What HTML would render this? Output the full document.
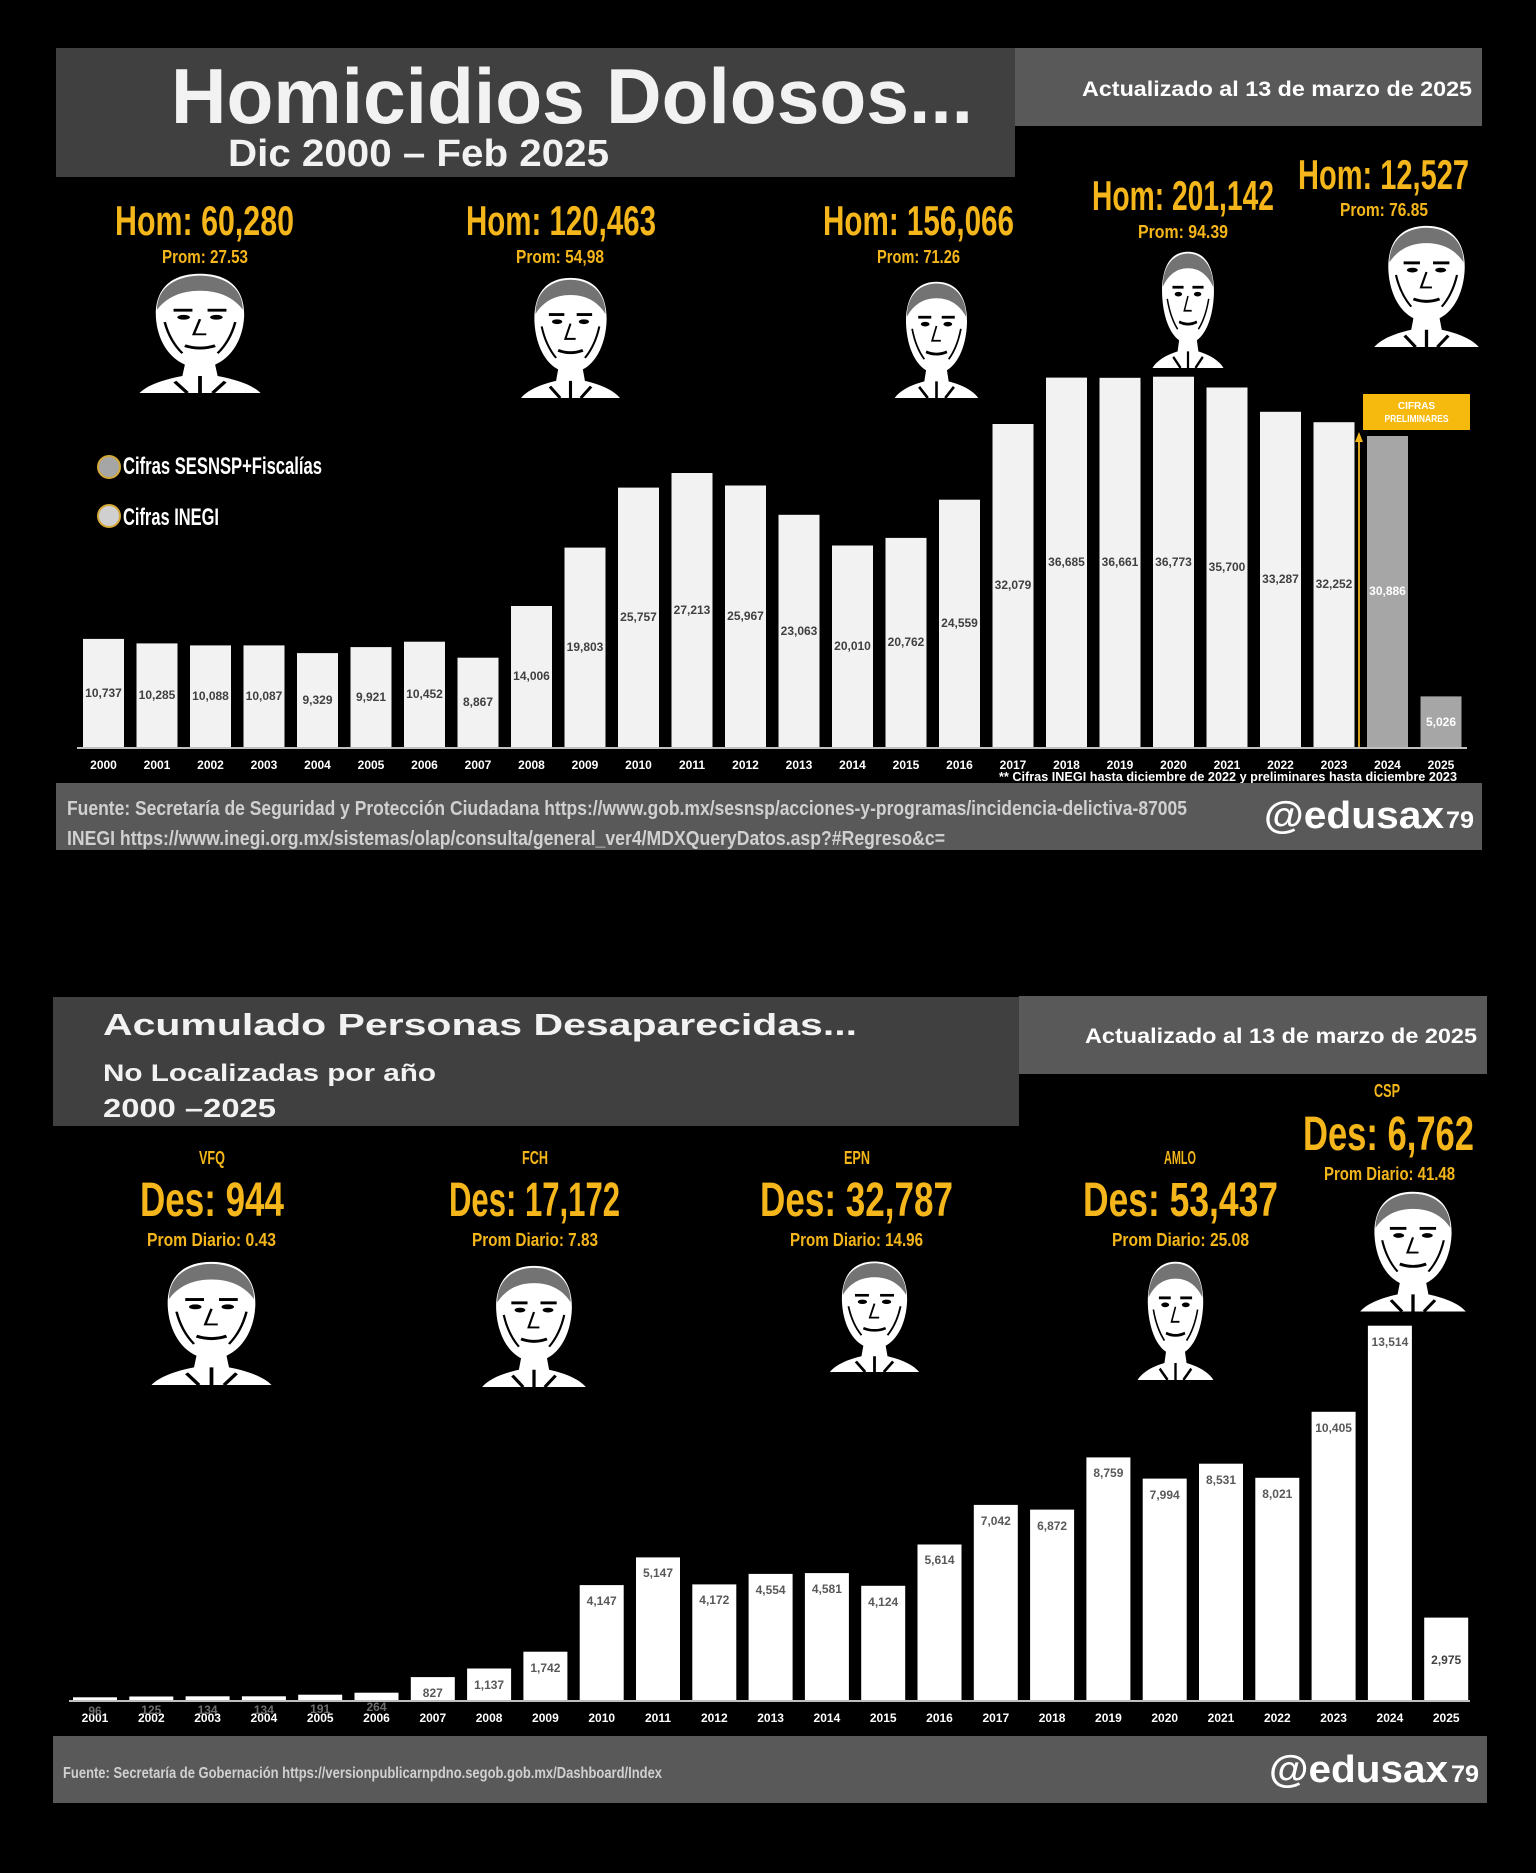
<!DOCTYPE html>
<html><head><meta charset="utf-8"><style>
html,body{margin:0;padding:0;background:#000;}
svg{display:block;}
text{font-family:"Liberation Sans",sans-serif;font-weight:bold;}
</style></head><body>
<svg width="1536" height="1873" viewBox="0 0 1536 1873" xmlns="http://www.w3.org/2000/svg">
<defs>
<g id="face">
 <path d="M50 4 C76 4 86 24 85 50 C84 72 76 92 62 100 L64 112 C80 116 92 122 98 130 L2 130 C8 122 20 116 36 112 L38 100 C24 92 16 72 15 50 C14 24 24 4 50 4 Z" fill="#fff"/>
 <path d="M16 42 C16 16 34 6 50 6 C66 6 84 16 84 42 C76 28 64 22 50 22 C36 22 24 28 16 42 Z" fill="#000" opacity="0.55"/>
 <rect x="29" y="41" width="15" height="3" fill="#000"/>
 <rect x="56" y="41" width="15" height="3" fill="#000"/>
 <ellipse cx="37" cy="50" rx="5" ry="2.5" fill="#000"/>
 <ellipse cx="63" cy="50" rx="5" ry="2.5" fill="#000"/>
 <path d="M50 52 L45 68 L55 68" fill="none" stroke="#000" stroke-width="2"/>
 <path d="M38 80 Q50 85 62 80" fill="none" stroke="#000" stroke-width="3"/>
 <path d="M22 55 Q26 75 36 88 M78 55 Q74 75 64 88" fill="none" stroke="#000" stroke-width="2"/>
 <path d="M30 118 L40 130 M70 118 L60 130 M50 112 L50 130" stroke="#000" stroke-width="3"/>
</g>
</defs>

<!-- ============ TOP SECTION ============ -->
<rect x="56" y="48" width="959" height="129" fill="#404040"/>
<rect x="1015" y="48" width="467" height="78" fill="#595959"/>
<text x="171" y="123" font-size="78" fill="#f2f2f2" textLength="802" lengthAdjust="spacingAndGlyphs">Homicidios Dolosos...</text>
<text x="228" y="166" font-size="38" fill="#f2f2f2" textLength="381" lengthAdjust="spacingAndGlyphs">Dic 2000 – Feb 2025</text>
<text x="1082" y="96" font-size="21" fill="#ffffff" textLength="390" lengthAdjust="spacingAndGlyphs">Actualizado al 13 de marzo de 2025</text>

<g fill="#f4b61a">
<text x="115" y="235" font-size="42" textLength="179" lengthAdjust="spacingAndGlyphs">Hom: 60,280</text>
<text x="162" y="263" font-size="18" textLength="86" lengthAdjust="spacingAndGlyphs">Prom: 27.53</text>
<text x="466" y="235" font-size="42" textLength="190" lengthAdjust="spacingAndGlyphs">Hom: 120,463</text>
<text x="516" y="263" font-size="18" textLength="88" lengthAdjust="spacingAndGlyphs">Prom: 54,98</text>
<text x="823" y="235" font-size="42" textLength="191" lengthAdjust="spacingAndGlyphs">Hom: 156,066</text>
<text x="877" y="263" font-size="18" textLength="83" lengthAdjust="spacingAndGlyphs">Prom: 71.26</text>
<text x="1092" y="210" font-size="42" textLength="182" lengthAdjust="spacingAndGlyphs">Hom: 201,142</text>
<text x="1138" y="238" font-size="18" textLength="90" lengthAdjust="spacingAndGlyphs">Prom: 94.39</text>
<text x="1298" y="189" font-size="42" textLength="171" lengthAdjust="spacingAndGlyphs">Hom: 12,527</text>
<text x="1340" y="216" font-size="18" textLength="88" lengthAdjust="spacingAndGlyphs">Prom: 76.85</text>
</g>

<!-- faces top -->
<use href="#face" transform="translate(137,270) scale(1.26,0.946)"/>
<use href="#face" transform="translate(519,274) scale(1.03,0.954)"/>
<use href="#face" transform="translate(893,278) scale(0.87,0.923)"/>
<use href="#face" transform="translate(1151,248) scale(0.74,0.923)"/>
<use href="#face" transform="translate(1372,222) scale(1.09,0.962)"/>

<!-- legend -->
<circle cx="109" cy="467" r="11" fill="#a6a6a6" stroke="#d4a838" stroke-width="2"/>
<circle cx="109" cy="516" r="11" fill="#d0d0d0" stroke="#d4a838" stroke-width="2"/>
<text x="123" y="474" font-size="24" fill="#fff" textLength="199" lengthAdjust="spacingAndGlyphs">Cifras SESNSP+Fiscalías</text>
<text x="123" y="525" font-size="24" fill="#fff" textLength="96" lengthAdjust="spacingAndGlyphs">Cifras INEGI</text>

<!-- top bars -->
<g fill="#f2f2f2">
<rect x="83" y="638.9" width="41" height="108.1"/>
<rect x="136.5" y="643.4" width="41" height="103.6"/>
<rect x="190" y="645.4" width="41" height="101.6"/>
<rect x="243.5" y="645.4" width="41" height="101.6"/>
<rect x="297" y="653.1" width="41" height="93.9"/>
<rect x="350.5" y="647.1" width="41" height="99.9"/>
<rect x="404" y="641.7" width="41" height="105.3"/>
<rect x="457.5" y="657.7" width="41" height="89.3"/>
<rect x="511" y="606" width="41" height="141"/>
<rect x="564.5" y="547.6" width="41" height="199.4"/>
<rect x="618" y="487.6" width="41" height="259.4"/>
<rect x="671.5" y="473" width="41" height="274"/>
<rect x="725" y="485.5" width="41" height="261.5"/>
<rect x="778.5" y="514.8" width="41" height="232.2"/>
<rect x="832" y="545.5" width="41" height="201.5"/>
<rect x="885.5" y="537.9" width="41" height="209.1"/>
<rect x="939" y="499.7" width="41" height="247.3"/>
<rect x="992.5" y="424" width="41" height="323"/>
<rect x="1046" y="377.6" width="41" height="369.4"/>
<rect x="1099.5" y="377.8" width="41" height="369.2"/>
<rect x="1153" y="376.7" width="41" height="370.3"/>
<rect x="1206.5" y="387.5" width="41" height="359.5"/>
<rect x="1260" y="411.8" width="41" height="335.2"/>
<rect x="1313.5" y="422.2" width="41" height="324.8"/>
</g>
<rect x="1367" y="436" width="41" height="311" fill="#a6a6a6"/>
<rect x="1420.5" y="696.4" width="41" height="50.6" fill="#a6a6a6"/>
<line x1="77" y1="748" x2="1467" y2="748" stroke="#bfbfbf" stroke-width="2"/>

<g font-size="12" fill="#404040" text-anchor="middle">
<text x="103.5" y="697">10,737</text>
<text x="157" y="699">10,285</text>
<text x="210.5" y="700">10,088</text>
<text x="264" y="700">10,087</text>
<text x="317.5" y="704">9,329</text>
<text x="371" y="701">9,921</text>
<text x="424.5" y="698">10,452</text>
<text x="478" y="706">8,867</text>
<text x="531.5" y="680">14,006</text>
<text x="585" y="651">19,803</text>
<text x="638.5" y="621">25,757</text>
<text x="692" y="614">27,213</text>
<text x="745.5" y="620">25,967</text>
<text x="799" y="635">23,063</text>
<text x="852.5" y="650">20,010</text>
<text x="906" y="646">20,762</text>
<text x="959.5" y="627">24,559</text>
<text x="1013" y="589">32,079</text>
<text x="1066.5" y="566">36,685</text>
<text x="1120" y="566">36,661</text>
<text x="1173.5" y="566">36,773</text>
<text x="1227" y="571">35,700</text>
<text x="1280.5" y="583">33,287</text>
<text x="1334" y="588">32,252</text>
<text x="1387.5" y="595" fill="#ffffff">30,886</text>
<text x="1441" y="726" fill="#ffffff">5,026</text>
</g>

<!-- arrow + cifras preliminares -->
<line x1="1359" y1="747" x2="1359" y2="440" stroke="#d9a521" stroke-width="2"/>
<polygon points="1359,432 1355,442 1363,442" fill="#f4b61a"/>
<rect x="1363" y="394" width="107" height="36" fill="#f6b90e"/>
<text x="1416.5" y="409" font-size="10" fill="#fff" text-anchor="middle">CIFRAS</text>
<text x="1416.5" y="422" font-size="10" fill="#fff" text-anchor="middle" textLength="64" lengthAdjust="spacingAndGlyphs">PRELIMINARES</text>

<g font-size="12" fill="#ffffff" text-anchor="middle">
<text x="103.5" y="769">2000</text><text x="157" y="769">2001</text><text x="210.5" y="769">2002</text>
<text x="264" y="769">2003</text><text x="317.5" y="769">2004</text><text x="371" y="769">2005</text>
<text x="424.5" y="769">2006</text><text x="478" y="769">2007</text><text x="531.5" y="769">2008</text>
<text x="585" y="769">2009</text><text x="638.5" y="769">2010</text><text x="692" y="769">2011</text>
<text x="745.5" y="769">2012</text><text x="799" y="769">2013</text><text x="852.5" y="769">2014</text>
<text x="906" y="769">2015</text><text x="959.5" y="769">2016</text><text x="1013" y="769">2017</text>
<text x="1066.5" y="769">2018</text><text x="1120" y="769">2019</text><text x="1173.5" y="769">2020</text>
<text x="1227" y="769">2021</text><text x="1280.5" y="769">2022</text><text x="1334" y="769">2023</text>
<text x="1387.5" y="769">2024</text><text x="1441" y="769">2025</text>
</g>
<text x="999" y="781" font-size="13" fill="#ffffff" textLength="458" lengthAdjust="spacingAndGlyphs">** Cifras INEGI hasta diciembre de 2022 y preliminares hasta diciembre 2023</text>

<!-- footer 1 -->
<rect x="56" y="783" width="1426" height="67" fill="#595959"/>
<text x="67" y="815" font-size="20" fill="#d0d0d0" textLength="1120" lengthAdjust="spacingAndGlyphs">Fuente: Secretaría de Seguridad y Protección Ciudadana https://www.gob.mx/sesnsp/acciones-y-programas/incidencia-delictiva-87005</text>
<text x="67" y="845" font-size="20" fill="#d0d0d0" textLength="878" lengthAdjust="spacingAndGlyphs">INEGI https://www.inegi.org.mx/sistemas/olap/consulta/general_ver4/MDXQueryDatos.asp?#Regreso&amp;c=</text>
<text x="1264" y="828" font-size="38" fill="#ffffff" textLength="180" lengthAdjust="spacingAndGlyphs">@edusax</text>
<text x="1446" y="828" font-size="24" fill="#ffffff" textLength="28" lengthAdjust="spacingAndGlyphs">79</text>

<!-- ============ BOTTOM SECTION ============ -->
<rect x="53" y="997" width="966" height="129" fill="#404040"/>
<rect x="1019" y="996" width="468" height="78" fill="#595959"/>
<text x="103" y="1035" font-size="31" fill="#f2f2f2" textLength="754" lengthAdjust="spacingAndGlyphs">Acumulado Personas Desaparecidas...</text>
<text x="103" y="1081" font-size="24" fill="#f2f2f2" textLength="333" lengthAdjust="spacingAndGlyphs">No Localizadas por año</text>
<text x="103" y="1117" font-size="26" fill="#f2f2f2" textLength="173" lengthAdjust="spacingAndGlyphs">2000 –2025</text>
<text x="1085" y="1043" font-size="21" fill="#ffffff" textLength="392" lengthAdjust="spacingAndGlyphs">Actualizado al 13 de marzo de 2025</text>

<g fill="#f4b61a">
<text x="1387" y="1097" font-size="18" text-anchor="middle" textLength="26" lengthAdjust="spacingAndGlyphs">CSP</text>
<text x="1303" y="1150" font-size="48" textLength="171" lengthAdjust="spacingAndGlyphs">Des: 6,762</text>
<text x="1324" y="1180" font-size="18" textLength="131" lengthAdjust="spacingAndGlyphs">Prom Diario: 41.48</text>

<text x="212" y="1164" font-size="18" text-anchor="middle" textLength="26" lengthAdjust="spacingAndGlyphs">VFQ</text>
<text x="140" y="1216" font-size="48" textLength="144" lengthAdjust="spacingAndGlyphs">Des: 944</text>
<text x="147" y="1246" font-size="18" textLength="129" lengthAdjust="spacingAndGlyphs">Prom Diario: 0.43</text>

<text x="535" y="1164" font-size="18" text-anchor="middle" textLength="26" lengthAdjust="spacingAndGlyphs">FCH</text>
<text x="449" y="1216" font-size="48" textLength="171" lengthAdjust="spacingAndGlyphs">Des: 17,172</text>
<text x="472" y="1246" font-size="18" textLength="126" lengthAdjust="spacingAndGlyphs">Prom Diario: 7.83</text>

<text x="857" y="1164" font-size="18" text-anchor="middle" textLength="26" lengthAdjust="spacingAndGlyphs">EPN</text>
<text x="760" y="1216" font-size="48" textLength="193" lengthAdjust="spacingAndGlyphs">Des: 32,787</text>
<text x="790" y="1246" font-size="18" textLength="133" lengthAdjust="spacingAndGlyphs">Prom Diario: 14.96</text>

<text x="1180" y="1164" font-size="18" text-anchor="middle" textLength="32" lengthAdjust="spacingAndGlyphs">AMLO</text>
<text x="1083" y="1216" font-size="48" textLength="195" lengthAdjust="spacingAndGlyphs">Des: 53,437</text>
<text x="1112" y="1246" font-size="18" textLength="137" lengthAdjust="spacingAndGlyphs">Prom Diario: 25.08</text>
</g>

<!-- faces bottom -->
<use href="#face" transform="translate(149,1258) scale(1.25,0.977)"/>
<use href="#face" transform="translate(480,1262) scale(1.08,0.962)"/>
<use href="#face" transform="translate(828,1258) scale(0.93,0.877)"/>
<use href="#face" transform="translate(1136,1258) scale(0.79,0.938)"/>
<use href="#face" transform="translate(1358,1188) scale(1.1,0.95)"/>

<!-- bottom bars -->
<g fill="#ffffff">
<rect x="73" y="1697.3" width="44" height="2.7"/>
<rect x="129.3" y="1696.5" width="44" height="3.5"/>
<rect x="185.6" y="1696.3" width="44" height="3.7"/>
<rect x="241.9" y="1696.3" width="44" height="3.7"/>
<rect x="298.2" y="1694.7" width="44" height="5.3"/>
<rect x="354.5" y="1692.7" width="44" height="7.3"/>
<rect x="410.8" y="1677.1" width="44" height="22.9"/>
<rect x="467.1" y="1668.5" width="44" height="31.5"/>
<rect x="523.4" y="1651.7" width="44" height="48.3"/>
<rect x="579.7" y="1585.1" width="44" height="114.9"/>
<rect x="636" y="1557.4" width="44" height="142.6"/>
<rect x="692.3" y="1584.4" width="44" height="115.6"/>
<rect x="748.6" y="1573.9" width="44" height="126.1"/>
<rect x="804.9" y="1573.1" width="44" height="126.9"/>
<rect x="861.2" y="1585.8" width="44" height="114.2"/>
<rect x="917.5" y="1544.5" width="44" height="155.5"/>
<rect x="973.8" y="1504.9" width="44" height="195.1"/>
<rect x="1030.1" y="1509.6" width="44" height="190.4"/>
<rect x="1086.4" y="1457.4" width="44" height="242.6"/>
<rect x="1142.7" y="1478.6" width="44" height="221.4"/>
<rect x="1199" y="1463.7" width="44" height="236.3"/>
<rect x="1255.3" y="1477.8" width="44" height="222.2"/>
<rect x="1311.6" y="1411.8" width="44" height="288.2"/>
<rect x="1367.9" y="1325.7" width="44" height="374.3"/>
<rect x="1424.2" y="1617.6" width="44" height="82.4"/>
</g>
<line x1="69" y1="1701" x2="1470" y2="1701" stroke="#bfbfbf" stroke-width="2"/>

<g font-size="12" fill="#595959" text-anchor="middle">
<text x="432.8" y="1697">827</text>
<text x="489.1" y="1689">1,137</text>
<text x="545.4" y="1672">1,742</text>
<text x="601.7" y="1605">4,147</text>
<text x="658" y="1577">5,147</text>
<text x="714.3" y="1604">4,172</text>
<text x="770.6" y="1594">4,554</text>
<text x="826.9" y="1593">4,581</text>
<text x="883.2" y="1606">4,124</text>
<text x="939.5" y="1564">5,614</text>
<text x="995.8" y="1525">7,042</text>
<text x="1052.1" y="1530">6,872</text>
<text x="1108.4" y="1477">8,759</text>
<text x="1164.7" y="1499">7,994</text>
<text x="1221" y="1484">8,531</text>
<text x="1277.3" y="1498">8,021</text>
<text x="1333.6" y="1432">10,405</text>
<text x="1389.9" y="1346">13,514</text>
<text x="1446.2" y="1664" fill="#404040">2,975</text>
</g>
<g font-size="12" fill="#ffffff" text-anchor="middle">
<text x="95" y="1722">2001</text><text x="151.3" y="1722">2002</text><text x="207.6" y="1722">2003</text>
<text x="263.9" y="1722">2004</text><text x="320.2" y="1722">2005</text><text x="376.5" y="1722">2006</text>
<text x="432.8" y="1722">2007</text><text x="489.1" y="1722">2008</text><text x="545.4" y="1722">2009</text>
<text x="601.7" y="1722">2010</text><text x="658" y="1722">2011</text><text x="714.3" y="1722">2012</text>
<text x="770.6" y="1722">2013</text><text x="826.9" y="1722">2014</text><text x="883.2" y="1722">2015</text>
<text x="939.5" y="1722">2016</text><text x="995.8" y="1722">2017</text><text x="1052.1" y="1722">2018</text>
<text x="1108.4" y="1722">2019</text><text x="1164.7" y="1722">2020</text><text x="1221" y="1722">2021</text>
<text x="1277.3" y="1722">2022</text><text x="1333.6" y="1722">2023</text><text x="1389.9" y="1722">2024</text>
<text x="1446.2" y="1722">2025</text>
</g>
<g font-size="12" fill="#808080" text-anchor="middle" opacity="0.85">
<text x="95" y="1715">96</text><text x="151.3" y="1714">125</text><text x="207.6" y="1714">134</text>
<text x="263.9" y="1714">134</text><text x="320.2" y="1713">191</text><text x="376.5" y="1711">264</text>
</g>

<!-- footer 2 -->
<rect x="53" y="1736" width="1434" height="67" fill="#595959"/>
<text x="63" y="1778" font-size="16" fill="#d0d0d0" textLength="599" lengthAdjust="spacingAndGlyphs">Fuente: Secretaría de Gobernación https://versionpublicarnpdno.segob.gob.mx/Dashboard/Index</text>
<text x="1269" y="1782" font-size="38" fill="#ffffff" textLength="179" lengthAdjust="spacingAndGlyphs">@edusax</text>
<text x="1451" y="1782" font-size="24" fill="#ffffff" textLength="28" lengthAdjust="spacingAndGlyphs">79</text>
</svg>
</body></html>
